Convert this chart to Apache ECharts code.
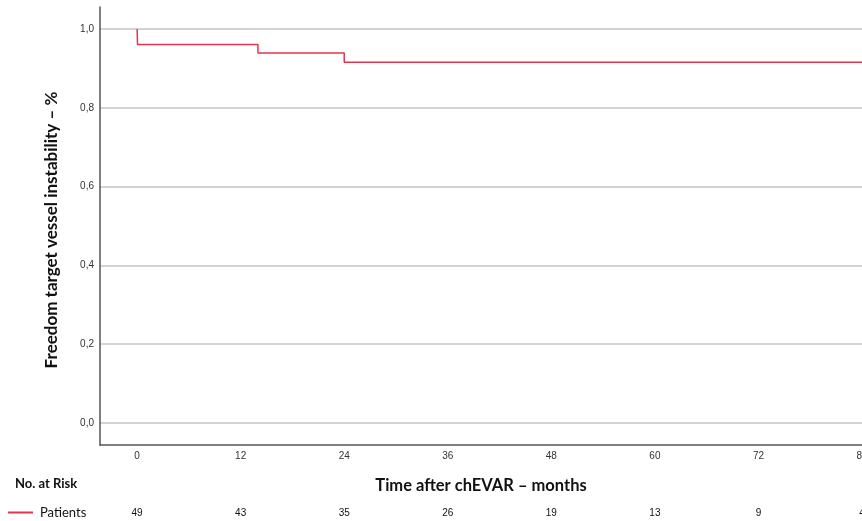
<!DOCTYPE html>
<html>
<head>
<meta charset="utf-8">
<script src="https://cdn.jsdelivr.net/npm/echarts@6/dist/echarts.min.js"></script>
<style>
  html, body { margin: 0; padding: 0; background: #fff; }
  #chart { width: 862px; height: 521px; }
</style>
</head>
<body>
<div id="chart"></div>
<script>
// Kaplan-Meier step points (months, survival fraction)
const stepMonths = [0, 0.05, 14, 24, 84];
const stepValues = [1.0, 0.961, 0.939, 0.916, 0.916];
// axis ticks
const monthTicks = [0, 12, 24, 36, 48, 60, 72, 84];
const survTicks = [0, 0.2, 0.4, 0.6, 0.8, 1.0];
// number at risk under each month tick
const atRisk = [49, 43, 35, 26, 19, 13, 9, 4];

const red = '#e3344f';
const chart = echarts.init(document.getElementById('chart'), null, {renderer: 'canvas'});

const fmtComma = v => v.toFixed(1).replace('.', ',');

let option = {
    animation: false,
    title: {
        text: 'No. at Risk',
        left: 10,
        top: 472,
        textStyle: {fontFamily: 'Lato', fontWeight: 'bold', fontSize: 13, color: '#111'}
    },
    legend: {
        left: 3,
        top: 501,
        itemWidth: 25,
        itemHeight: 2,
        itemGap: 8,
        icon: 'rect',
        data: ['Patients'],
        textStyle: {fontFamily: 'Lato', fontSize: 13, color: '#111', padding: [0, 0, 0, 2]}
    },
    grid: {left: 100, right: 0, top: 7, bottom: 76, outerBoundsMode: 'none', containLabel: false},
    xAxis: [
        {
            type: 'value',
            min: -4.3,
            max: 84,
            name: 'Time after chEVAR – months',
            nameLocation: 'middle',
            nameGap: 32,
            nameTextStyle: {fontFamily: 'Lato', fontWeight: 'bold', fontSize: 16.5, color: '#111'},
            axisLine: {show: true, onZero: false, lineStyle: {color: '#555', width: 1.5}},
            axisTick: {show: false, customValues: monthTicks},
            axisLabel: {
                customValues: monthTicks,
                margin: 6,
                fontFamily: 'Liberation Sans',
                fontSize: 10,
                color: '#333',
                formatter: v => String(v)
            },
            splitLine: {show: false}
        },
        {
            type: 'value',
            min: -4.3,
            max: 84,
            position: 'bottom',
            offset: 57,
            axisLine: {show: false},
            axisTick: {show: false, customValues: monthTicks},
            axisLabel: {
                customValues: monthTicks,
                margin: 6,
                fontFamily: 'Liberation Sans',
                fontSize: 10,
                color: '#111',
                formatter: v => {
                    const i = monthTicks.indexOf(v);
                    return i >= 0 ? String(atRisk[i]) : '';
                }
            },
            splitLine: {show: false}
        }
    ],
    yAxis: {
        type: 'value',
        min: -0.056,
        max: 1.056,
        name: 'Freedom target vessel instability – %',
        nameLocation: 'middle',
        nameGap: 40,
        nameTextStyle: {fontFamily: 'Lato', fontWeight: 'bold', fontSize: 17, color: '#111', padding: [0, 8, 0, 0]},
        axisLine: {show: true, onZero: false, lineStyle: {color: '#555', width: 1.5}},
        axisTick: {show: false, customValues: survTicks},
        axisLabel: {
            customValues: survTicks,
            margin: 6,
            fontFamily: 'Liberation Sans',
            fontSize: 10,
            color: '#333',
            formatter: fmtComma
        },
        splitLine: {show: true, lineStyle: {color: '#c4c4c4', width: 1.5}}
    },
    series: [
        {
            name: 'Patients',
            type: 'line',
            step: 'end',
            showSymbol: false,
            color: red,
            lineStyle: {color: red, width: 1.5},
            data: stepMonths.map((m, i) => [m, stepValues[i]])
        }
    ]
};
chart.setOption(option);
</script>
</body>
</html>
